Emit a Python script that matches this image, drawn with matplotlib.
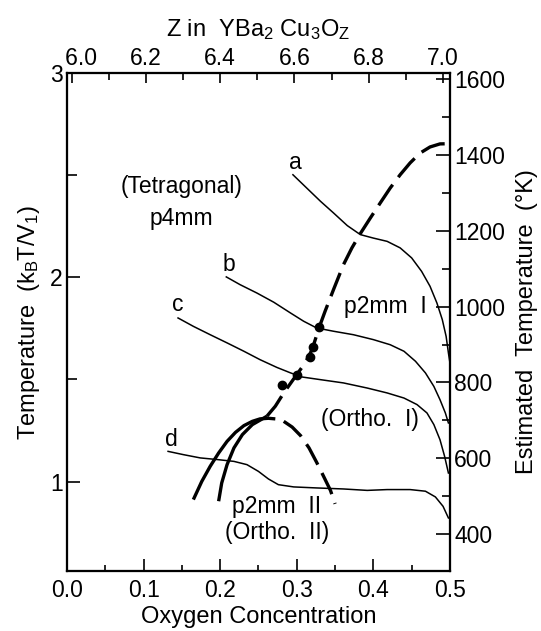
import numpy as np
import matplotlib.pyplot as plt
from matplotlib.ticker import MultipleLocator

plt.rcParams.update({
    "font.family": ["Liberation Sans", "DejaVu Sans"],
    "mathtext.fontset": "custom",
    "mathtext.rm": "Liberation Sans",
    "mathtext.it": "Liberation Sans",
    "font.size": 16.5,
    "xtick.labelsize": 16.5,
    "ytick.labelsize": 16.5,
    "axes.labelsize": 17,
    "axes.linewidth": 1.5,
})

# iso-temperature curves a-d (oxygen concentration, k_B T / V_1)
a_x = [0.295, 0.313, 0.331, 0.348, 0.366, 0.383, 0.400, 0.418, 0.435, 0.450,
       0.463, 0.474, 0.483, 0.490, 0.495, 0.498, 0.500]
a_y = [2.502, 2.437, 2.372, 2.315, 2.253, 2.209, 2.192, 2.176, 2.144, 2.095,
       2.029, 1.956, 1.874, 1.793, 1.711, 1.630, 1.581]

b_x = [0.208, 0.226, 0.248, 0.270, 0.292, 0.309, 0.326, 0.348, 0.374, 0.400,
       0.422, 0.440, 0.455, 0.468, 0.479, 0.487, 0.494, 0.498]
b_y = [2.002, 1.964, 1.923, 1.878, 1.825, 1.785, 1.752, 1.736, 1.719, 1.695,
       1.670, 1.638, 1.589, 1.532, 1.466, 1.401, 1.336, 1.287]

c_x = [0.145, 0.165, 0.187, 0.209, 0.231, 0.252, 0.274, 0.292, 0.307, 0.331,
       0.361, 0.392, 0.418, 0.440, 0.457, 0.470, 0.479, 0.487, 0.493, 0.498]
c_y = [1.801, 1.760, 1.719, 1.679, 1.638, 1.597, 1.559, 1.532, 1.512, 1.499,
       1.483, 1.458, 1.434, 1.409, 1.377, 1.336, 1.279, 1.205, 1.124, 1.042]

d_x = [0.132, 0.152, 0.174, 0.196, 0.218, 0.235, 0.250, 0.263, 0.276, 0.296,
       0.326, 0.361, 0.392, 0.418, 0.448, 0.468, 0.481, 0.491, 0.498]
d_y = [1.148, 1.132, 1.116, 1.108, 1.099, 1.083, 1.050, 1.013, 0.985, 0.974,
       0.969, 0.964, 0.957, 0.961, 0.961, 0.953, 0.925, 0.879, 0.822]

# tetragonal / orthorhombic boundary (solid low part, dashed upper part)
bound_solid_x = [0.198, 0.202, 0.209, 0.218, 0.229, 0.242, 0.255, 0.261]
bound_solid_y = [0.904, 0.993, 1.083, 1.165, 1.230, 1.279, 1.307, 1.320]
bound_dash_x = [0.261, 0.272, 0.283, 0.300, 0.311, 0.320, 0.329, 0.337, 0.348,
                0.361, 0.372, 0.383, 0.396, 0.409, 0.422, 0.435, 0.448, 0.461,
                0.474, 0.487, 0.500]
bound_dash_y = [1.320, 1.369, 1.434, 1.524, 1.581, 1.646, 1.752, 1.834, 1.940,
                2.062, 2.144, 2.214, 2.290, 2.364, 2.437, 2.502, 2.560, 2.608,
                2.638, 2.653, 2.654]

# Ortho I / Ortho II dome (solid left flank, dashed right flank)
dome_solid_x = [0.165, 0.176, 0.187, 0.198, 0.209, 0.220, 0.231, 0.242, 0.252,
                0.263, 0.272]
dome_solid_y = [0.912, 1.001, 1.075, 1.140, 1.197, 1.241, 1.274, 1.295, 1.307,
                1.310, 1.307]
dome_dash_x = [0.283, 0.294, 0.305, 0.316, 0.326, 0.335, 0.344, 0.350]
dome_dash_y = [1.295, 1.267, 1.225, 1.165, 1.094, 1.026, 0.957, 0.891]

# measured points on the boundary
pts_x = [0.3285, 0.321, 0.317, 0.300, 0.281]
pts_y = [1.757, 1.659, 1.610, 1.524, 1.475]

fig = plt.figure(figsize=(5.41, 6.31), dpi=100)
ax = fig.add_axes([0.1238, 0.0951, 0.7079, 0.7892])

thin = dict(color="black", linewidth=1.1)
thick = dict(color="black", linewidth=2.4, solid_capstyle="butt")
for xs, ys in [(a_x, a_y), (b_x, b_y), (c_x, c_y), (d_x, d_y)]:
    ax.plot(xs, ys, **thin)

ax.plot(bound_solid_x, bound_solid_y, **thick)
ax.plot(bound_dash_x, bound_dash_y, dashes=(7.5, 2.8), **thick)
ax.plot(dome_solid_x, dome_solid_y, **thick)
ax.plot(dome_dash_x, dome_dash_y, dashes=(7, 2.8), **thick)
ax.plot(pts_x, pts_y, "o", color="black", markersize=6)

ax.text(0.298, 2.563, "a", ha="center", va="center")
ax.text(0.212, 2.062, "b", ha="center", va="center")
ax.text(0.144, 1.866, "c", ha="center", va="center")
ax.text(0.136, 1.205, "d", ha="center", va="center")
ax.text(0.150, 2.445, "(Tetragonal)", ha="center", va="center")
ax.text(0.150, 2.290, "p4mm", ha="center", va="center")
ax.text(0.4155, 1.858, "p2mm  I", ha="center", va="center")
ax.text(0.396, 1.303, "(Ortho.  I)", ha="center", va="center")
ax.text(0.274, 0.879, "p2mm  II", ha="center", va="center")
ax.text(0.274, 0.750, "(Ortho.  II)", ha="center", va="center")

ax.set_xlim(0, 0.5)
ax.set_ylim(0.5625, 3)
ax.xaxis.set_major_locator(MultipleLocator(0.1))
ax.xaxis.set_minor_locator(MultipleLocator(0.05))
ax.yaxis.set_major_locator(MultipleLocator(1))
ax.yaxis.set_minor_locator(MultipleLocator(0.5))
ax.tick_params(which="both", direction="in", width=1.2, pad=6)
ax.tick_params(axis="x", which="major", length=9)
ax.tick_params(axis="x", which="minor", length=4)
ax.tick_params(axis="y", which="major", length=9, pad=3)
ax.tick_params(axis="y", which="minor", length=7)
ax.set_xlabel("Oxygen Concentration", labelpad=3)
ax.set_ylabel(r"Temperature  (k$_\mathregular{B}$T/V$_\mathregular{1}$)", labelpad=6)

# right axis: estimated temperature in K
axr = ax.twinx()
axr.set_ylim(302, 1617)
axr.yaxis.set_major_locator(MultipleLocator(200))
axr.yaxis.set_minor_locator(MultipleLocator(100))
axr.tick_params(which="both", direction="in", width=1.2, pad=3)
axr.tick_params(which="major", length=10)
axr.tick_params(which="minor", length=6)
axr.set_ylabel("Estimated  Temperature  (°K)", labelpad=8)


def z_fmt(v, pos):
    # the 6.0 label sits a little to the right, beside the "3" of the left axis
    s = f"{v:.1f}"
    return "   " + s if abs(v - 6.0) < 1e-6 else s


# top axis: Z in YBa2Cu3Oz
axt = ax.twiny()
axt.set_xlim(5.987, 7.019)
axt.xaxis.set_major_locator(MultipleLocator(0.2))
axt.xaxis.set_minor_locator(MultipleLocator(0.1))
axt.xaxis.set_major_formatter(z_fmt)
axt.tick_params(which="both", direction="in", width=1.2, pad=2)
axt.tick_params(which="major", length=7)
axt.tick_params(which="minor", length=5)
axt.set_xlabel(r"Z in  YBa$_\mathregular{2}$ Cu$_\mathregular{3}$O$_\mathregular{Z}$",
               labelpad=8)

plt.savefig("out.png", dpi=100)
